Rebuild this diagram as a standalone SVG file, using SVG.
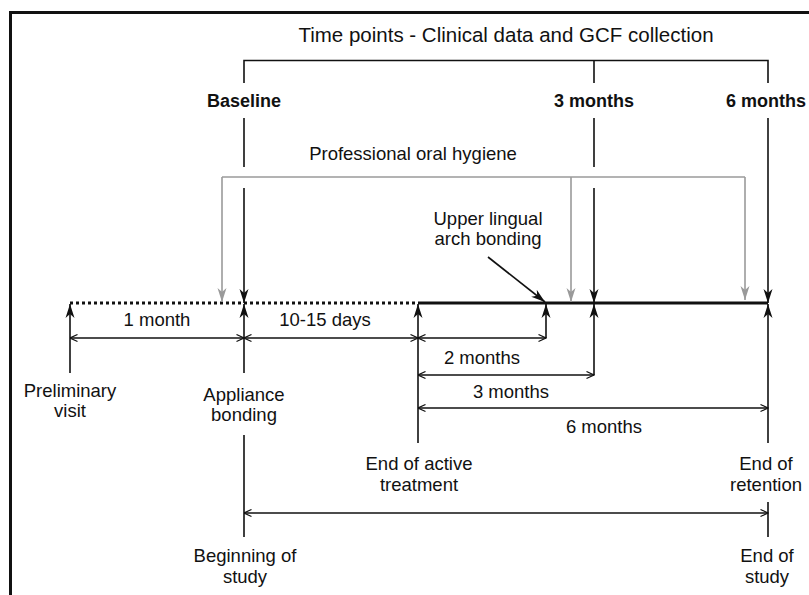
<svg xmlns="http://www.w3.org/2000/svg" width="809" height="595" viewBox="0 0 809 595">
<style>
text{font-family:"Liberation Sans",Arial,sans-serif;font-size:18.5px;fill:#111;text-anchor:middle}
.b{font-weight:bold;font-size:18px}
.t{font-size:20.5px}
.k{stroke:#111;stroke-width:1.6;fill:none}
.g{stroke:#9a9a9a;stroke-width:1.6;fill:none}
.d{stroke:#111;stroke-width:1.3;fill:none}
.tl{stroke:#111;stroke-width:3;fill:none}
</style>
<defs>
<marker id="ah" viewBox="0 0 14 10" refX="14" refY="5" markerWidth="14" markerHeight="10" markerUnits="userSpaceOnUse" orient="auto">
<path d="M0,0.5 L14,5 L0,9.5 L4,5 z" fill="#111"/>
</marker>
<marker id="ag" viewBox="0 0 14 10" refX="14" refY="5" markerWidth="14" markerHeight="10" markerUnits="userSpaceOnUse" orient="auto">
<path d="M0,0.5 L14,5 L0,9.5 L4,5 z" fill="#9a9a9a"/>
</marker>
<marker id="dm" viewBox="0 0 9 9" refX="8.5" refY="4.5" markerWidth="9" markerHeight="9" markerUnits="userSpaceOnUse" orient="auto-start-reverse">
<path d="M1,1 L8.5,4.5 L1,8" fill="none" stroke="#111" stroke-width="1.2"/>
</marker>
</defs>
<rect width="809" height="595" fill="#fff"/>
<g id="frame">
<path d="M10.5,595 V12.5 H809" fill="none" stroke="#111" stroke-width="3"/>
</g>
<g id="connectors">
<path class="k" d="M244,83 V60.5 H768 V83 M594,60.5 V83"/>
<path class="tl" d="M70,303 H418" stroke-dasharray="3,3"/>
<path class="tl" d="M418,303 H768"/>
<path class="k" d="M244,118 V167 M594,118 V167"/>
<path class="k" d="M244,188 V303" marker-end="url(#ah)"/>
<path class="k" d="M594,188 V303" marker-end="url(#ah)"/>
<path class="k" d="M768,118 V303" marker-end="url(#ah)"/>
<path class="g" d="M222,177 H745"/>
<path class="g" d="M222,177 V302" marker-end="url(#ag)"/>
<path class="g" d="M571,177 V302" marker-end="url(#ag)"/>
<path class="g" d="M745,177 V300" marker-end="url(#ag)"/>
<path class="k" d="M488,257 L545,302" marker-end="url(#ah)"/>
<path class="k" d="M70,373 V304" marker-end="url(#ah)"/>
<path class="k" d="M244,373 V304" marker-end="url(#ah)"/>
<path class="k" d="M418,443 V304" marker-end="url(#ah)"/>
<path class="k" d="M546,338 V304" marker-end="url(#ah)"/>
<path class="k" d="M594,375 V304" marker-end="url(#ah)"/>
<path class="k" d="M768,443 V304" marker-end="url(#ah)"/>
<path class="k" d="M244,435 V537 M768,502 V537"/>
<path class="d" d="M70,338 H244" marker-start="url(#dm)" marker-end="url(#dm)"/>
<path class="d" d="M244,338 H418" marker-start="url(#dm)" marker-end="url(#dm)"/>
<path class="d" d="M418,338 H546" marker-start="url(#dm)" marker-end="url(#dm)"/>
<path class="d" d="M418,375 H594" marker-start="url(#dm)" marker-end="url(#dm)"/>
<path class="d" d="M418,408 H768" marker-start="url(#dm)" marker-end="url(#dm)"/>
<path class="d" d="M244,513 H768" marker-start="url(#dm)" marker-end="url(#dm)"/>
</g>
<g id="title"><text class="t" x="506" y="42">Time points - Clinical data and GCF collection</text></g>
<g id="baseline"><text class="b" x="244" y="107">Baseline</text></g>
<g id="m3"><text class="b" x="594" y="107">3 months</text></g>
<g id="m6"><text class="b" x="766" y="107">6 months</text></g>
<g id="hygiene"><text x="413" y="160">Professional oral hygiene</text></g>
<g id="lingual"><text x="488" y="225">Upper lingual</text><text x="488" y="245">arch bonding</text></g>
<g id="d1"><text x="157" y="326">1 month</text></g>
<g id="d2"><text x="325" y="326">10-15 days</text></g>
<g id="d3"><text x="482" y="364">2 months</text></g>
<g id="d4"><text x="511" y="398">3 months</text></g>
<g id="d5"><text x="604" y="433">6 months</text></g>
<g id="prelim"><text x="70" y="397">Preliminary</text><text x="70" y="417">visit</text></g>
<g id="appliance"><text x="244" y="401">Appliance</text><text x="244" y="421">bonding</text></g>
<g id="endactive"><text x="419" y="470">End of active</text><text x="419" y="491">treatment</text></g>
<g id="endret"><text x="766" y="470">End of</text><text x="766" y="491">retention</text></g>
<g id="begin"><text x="245" y="562">Beginning of</text><text x="245" y="583">study</text></g>
<g id="endstudy"><text x="767" y="562">End of</text><text x="767" y="583">study</text></g>
</svg>
